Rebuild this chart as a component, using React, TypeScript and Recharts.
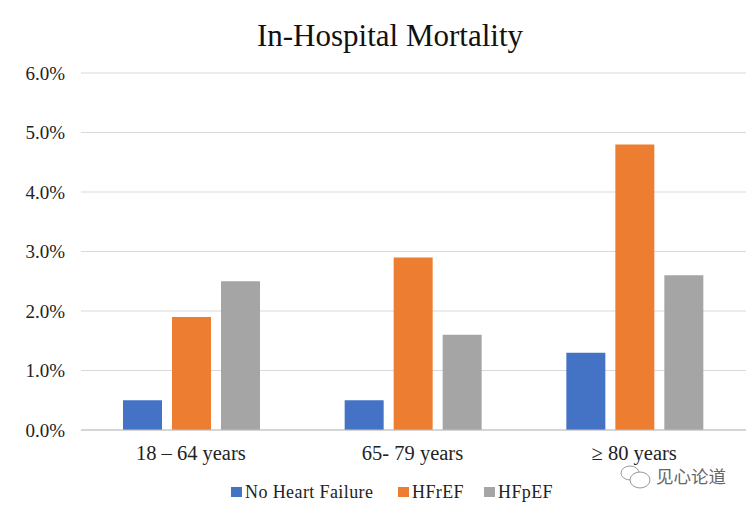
import { BarChart, Bar, XAxis, YAxis, CartesianGrid, Customized } from "recharts";

const categories = ["18 – 64 years", "65- 79 years", "≥ 80 years"];
const noHeartFailure = [0.5, 0.5, 1.3];
const hfref = [1.9, 2.9, 4.8];
const hfpef = [2.5, 1.6, 2.6];
const yTicks = [0, 1, 2, 3, 4, 5, 6];

const legendItems = [
  { label: "No Heart Failure", color: "#4472c4", box: 231, text: 245 },
  { label: "HFrEF", color: "#ed7d31", box: 398, text: 412 },
  { label: "HFpEF", color: "#a5a5a5", box: 484, text: 498 },
];

const FONT = '"Liberation Serif", "Times New Roman", serif';

const chartData = categories.map((category, i) => ({
  category,
  noHeartFailure: noHeartFailure[i],
  hfref: hfref[i],
  hfpef: hfpef[i],
}));

// title, legend and the watermark in the corner
const Extras = () => (
  <g>
    <text x={390} y={46} textAnchor="middle" fontFamily={FONT} fontSize={31} fill="#111">
      In-Hospital Mortality
    </text>
    {legendItems.map((item) => (
      <g key={item.label}>
        <rect x={item.box} y={487} width={11} height={10} fill={item.color} />
        <text x={item.text} y={498} fontFamily={FONT} fontSize={18} letterSpacing={0.4} fill="#222">
          {item.label}
        </text>
      </g>
    ))}
    <ellipse cx={630} cy={473} rx={9} ry={7} fill="#fff" stroke="#999" strokeWidth={1} />
    <ellipse cx={640} cy={480} rx={10} ry={8} fill="#fff" stroke="#999" strokeWidth={1} />
    <text x={656} y={483} fontFamily='"Noto Sans CJK SC"' fontSize={17.5} fill="#666">
      见心论道
    </text>
  </g>
);

export default function App() {
  return (
    <div style={{ position: "absolute", left: 0, top: 0, width: 751, height: 509, background: "#fff" }}>
      <BarChart
        width={751}
        height={509}
        data={chartData}
        barGap={10}
        barCategoryGap={42}
        margin={{ top: 73, right: 5, bottom: 39, left: 0 }}
      >
        <CartesianGrid vertical={false} stroke="#d9d9d9" />
        <XAxis
          dataKey="category"
          height={40}
          axisLine={{ stroke: "#bfbfbf" }}
          tickLine={false}
          tick={{ fontFamily: FONT, fontSize: 20.5, fill: "#222", dx: -1 }}
          tickMargin={9}
          interval={0}
        />
        <YAxis
          width={81}
          domain={[0, 6]}
          ticks={yTicks}
          axisLine={false}
          tickLine={false}
          tick={{ fontFamily: FONT, fontSize: 19, fill: "#222" }}
          tickMargin={10}
          tickFormatter={(v: number) => `${v.toFixed(1)}%`}
        />
        <Bar dataKey="noHeartFailure" fill="#4472c4" isAnimationActive={false} />
        <Bar dataKey="hfref" fill="#ed7d31" isAnimationActive={false} />
        <Bar dataKey="hfpef" fill="#a5a5a5" isAnimationActive={false} />
        <Customized component={Extras} />
      </BarChart>
    </div>
  );
}
